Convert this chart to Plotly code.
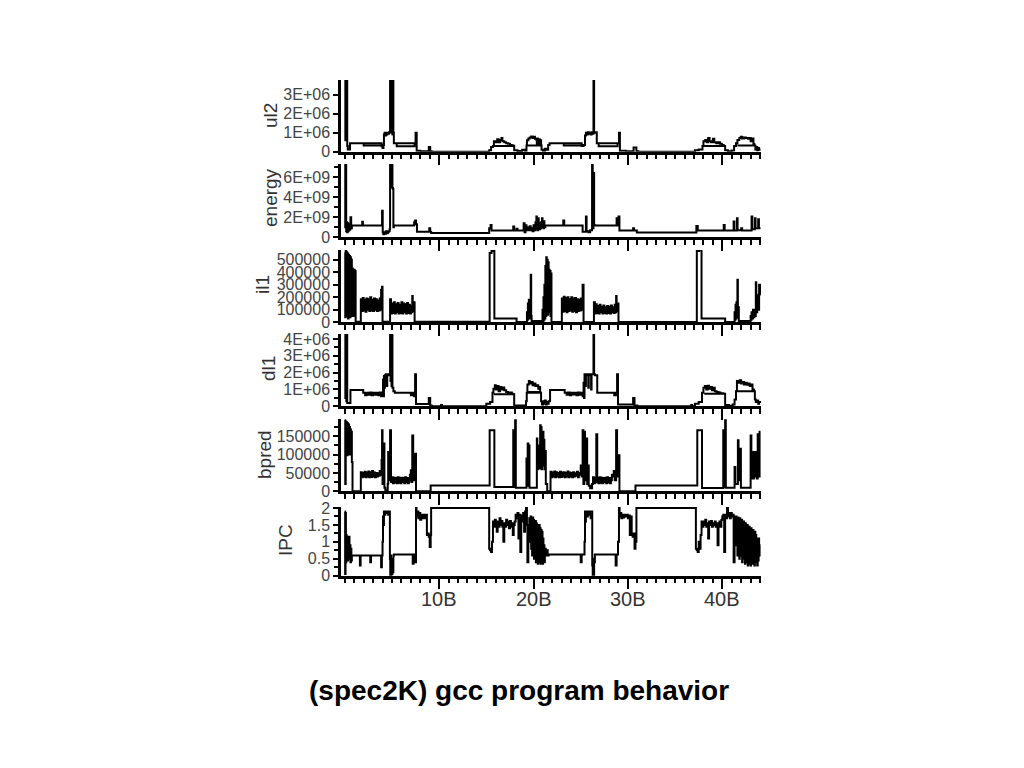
import plotly.graph_objects as go

# ---------------- data (x in billions of instructions) ----------------
# ul2 (millions)
UL2 = [(0.0,4.2),(0.06,0.6),(0.1,4.2),(0.16,1.0),(0.2,4.2),(0.26,0.3),(0.32,0.12),
       (0.55,0.45),(3.9,0.32),(2.0,0.45),(3.9,0.28),(4.0,0.2),(4.1,0.35),(4.15,0.9),(4.22,1.0),
       (4.3,0.85),(4.36,1.0),(4.45,0.9),(4.52,1.0),(4.6,0.95),(4.7,1.02),
       (4.8,4.2),(4.85,3.0),(4.9,4.2),(4.95,1.0),(5.0,4.2),(5.05,0.9),(5.1,4.2),(5.15,1.0),
       (5.2,0.45),(7.4,0.28),(5.5,0.45),(7.5,1.0),(7.62,0.05),(8.0,0.02),(8.9,0.25),(9.05,0.02),
       (9.2,0.0),(15.3,0.08),(15.5,0.25),(15.7,0.3),
       (15.8,0.55),(16.0,0.5),(16.15,0.65),(16.3,0.5),(16.45,0.62),(16.6,0.72),(16.7,0.55),
       (16.9,0.5),(17.1,0.45),(17.3,0.42),(17.5,0.35),(17.7,0.32),(17.9,0.3),(15.8,0.3),
       (17.95,0.08),(18.3,0.04),(18.8,0.1),(19.1,0.05),(19.25,0.33),
       (19.3,0.6),(19.45,0.7),(19.6,0.75),(19.75,0.8),(19.9,0.72),(20.0,0.78),(20.15,0.68),
       (20.3,0.62),(20.35,0.4),(20.4,0.7),(20.45,0.4),(20.5,0.55),(20.55,0.35),(20.6,0.65),
       (20.65,0.4),(20.7,0.6),(20.8,0.33),(19.35,0.33),
       (20.85,0.1),(21.0,0.05),(21.2,0.15),(21.4,0.1),(21.55,0.35),
       (21.7,0.45),(25.1,0.33),(23.2,0.45),(25.1,0.3),(25.3,0.35),(25.45,0.85),(25.55,1.0),
       (25.65,0.9),(25.75,1.02),(25.85,0.95),(25.95,1.0),(26.05,0.9),(26.15,1.02),(26.25,0.95),
       (26.35,4.2),(26.42,1.0),(26.5,1.02),
       (26.7,0.45),(28.9,0.28),(26.9,0.45),(29.05,1.0),(29.15,0.05),(29.8,0.02),(30.6,0.22),
       (30.9,0.02),(31.1,0.0),(37.1,0.08),(37.5,0.12),(37.9,0.3),
       (38.0,0.55),(38.2,0.62),(38.35,0.5),(38.5,0.72),(38.65,0.55),(38.8,0.5),(39.0,0.68),
       (39.15,0.5),(39.35,0.45),(39.55,0.5),(39.75,0.42),(39.95,0.35),(40.15,0.3),(38.0,0.3),
       (40.3,0.08),(40.6,0.03),(41.0,0.06),(41.25,0.3),(41.45,0.45),
       (41.6,0.62),(41.8,0.72),(41.95,0.78),(42.1,0.7),(42.3,0.75),(42.5,0.72),(42.7,0.68),
       (42.85,0.72),(43.0,0.55),(43.15,0.7),(43.3,0.4),(43.4,0.33),(41.6,0.33),
       (43.5,0.12),(43.6,0.25),(43.7,0.08),(43.8,0.2),(43.9,0.1),(44.05,0.1)]

# energy (units of 1E+09)
ENERGY = [(0.0,7.6),(0.05,1.0),(0.1,7.6),(0.15,0.6),(0.2,1.5),(0.25,0.5),(0.3,1.4),(0.35,0.6),
          (0.4,1.3),(0.45,0.7),(0.5,1.2),(0.55,0.8),(0.6,2.0),(0.68,0.9),(0.75,1.17),
          (1.85,1.55),(1.92,1.17),(3.95,2.65),(4.02,0.5),(4.08,0.3),(4.15,0.5),(4.25,0.35),
          (4.35,0.6),(4.45,0.4),(4.55,0.5),(4.65,0.6),(4.75,0.8),
          (4.8,7.6),(4.85,5.0),(4.9,7.6),(4.95,6.8),(5.0,7.6),(5.05,4.9),(5.1,4.8),(5.15,1.0),
          (5.2,1.17),(7.35,1.5),(7.45,1.67),(7.55,1.3),(7.65,0.55),(8.95,0.9),(9.05,0.55),
          (9.15,0.42),(15.3,0.9),(15.45,1.23),(15.55,0.67),(17.85,1.07),(17.95,0.67),
          (18.2,0.85),(18.3,0.67),(18.95,1.4),(19.05,0.5),(19.15,1.2),(19.25,0.7),(19.4,1.0),
          (19.5,0.7),(19.6,1.1),(19.7,0.7),(19.8,0.9),(19.9,0.6),(20.0,1.2),(20.1,0.7),
          (20.2,1.5),(20.25,0.8),(20.3,2.07),(20.35,0.9),(20.4,1.6),(20.45,0.7),(20.5,1.9),
          (20.55,1.0),(20.6,1.4),(20.65,0.8),(20.7,1.2),(20.75,0.9),(20.8,1.5),(20.85,1.0),
          (20.9,1.9),(20.95,1.1),(21.0,1.3),(21.05,0.9),(21.1,1.6),(21.15,1.0),
          (21.25,1.17),(23.15,1.67),(23.25,1.17),(25.2,0.55),(25.55,2.07),(25.62,0.6),
          (25.8,0.5),(26.0,0.7),(26.2,7.6),(26.27,0.9),(26.35,6.4),(26.42,1.2),(26.55,1.17),
          (28.8,1.9),(28.9,1.17),(29.0,2.07),(29.1,0.67),(30.55,0.9),(30.65,0.67),
          (30.95,0.47),(37.25,1.13),(37.4,0.67),(40.15,1.23),(40.25,0.67),(41.2,1.57),
          (41.28,0.67),(41.55,1.9),(41.62,0.7),(42.0,0.9),(42.1,0.67),(43.1,2.07),
          (43.18,0.8),(43.45,1.9),(43.52,0.9),(43.8,1.8),(43.88,0.9),(44.05,0.9)]

# il1 (units of 100000)
IL1 = [(0.0,5.6),(0.05,0.4),(0.1,5.7),(0.15,0.5),(0.2,5.6),(0.25,0.8),(0.3,5.5),(0.35,0.3),
       (0.4,5.4),(0.45,0.6),(0.5,5.3),(0.55,0.4),(0.6,5.2),(0.65,0.5),(0.7,5.0),(0.75,0.6),
       (0.8,4.3),(0.85,0.5),(0.9,4.2),(0.95,0.7),(1.0,4.2),(1.05,0.5),(1.1,4.1),(1.15,0.05),
       (1.7,1.85),(1.8,0.9),(1.9,1.95),(2.0,0.95),(2.1,1.8),(2.2,0.85),(2.3,1.9),(2.4,1.0),
       (2.5,1.85),(2.6,0.9),(2.7,2.0),(2.8,0.95),(2.9,1.8),(3.0,0.9),(3.1,1.9),(3.2,1.0),
       (3.3,1.85),(3.4,0.9),(3.5,1.75),(3.6,0.95),(3.7,1.9),(3.8,1.0),(3.85,2.6),(3.9,1.1),
       (3.95,2.85),(4.0,0.05),
       (4.8,1.85),(4.9,0.7),(5.0,1.5),(5.1,0.75),(5.2,1.6),(5.3,0.7),(5.4,1.45),(5.5,0.8),
       (5.6,1.55),(5.7,0.7),(5.8,1.4),(5.9,0.75),(6.0,1.6),(6.1,0.7),(6.2,1.5),(6.3,0.8),
       (6.4,1.45),(6.5,0.7),(6.6,1.55),(6.7,0.75),(6.8,1.4),(6.9,0.7),(7.0,1.3),(7.1,0.8),
       (7.15,2.1),(7.2,0.9),(7.3,1.6),(7.4,0.05),
       (15.35,5.55),(15.55,5.7),(15.85,0.3),(18.2,0.02),(19.3,0.8),(19.35,0.2),(19.4,1.5),
       (19.45,0.3),(19.5,1.8),(19.55,0.4),(19.6,1.7),(19.65,0.3),(19.7,3.8),(19.75,0.5),
       (19.8,0.1),(20.95,1.0),(21.0,0.1),(21.05,2.0),(21.1,0.2),(21.15,3.0),(21.2,0.3),
       (21.25,4.5),(21.3,0.5),(21.35,5.2),(21.4,0.8),(21.45,5.0),(21.5,0.6),(21.55,4.8),
       (21.6,1.0),(21.65,4.2),(21.7,0.8),(21.75,4.1),(21.8,0.5),(21.85,3.9),(21.9,0.02),
       (23.0,1.9),(23.1,0.85),(23.2,2.05),(23.3,0.9),(23.4,1.95),(23.5,0.8),(23.6,2.0),
       (23.7,0.9),(23.8,1.85),(23.9,0.95),(24.0,2.0),(24.1,0.85),(24.2,1.9),(24.3,0.9),
       (24.4,1.95),(24.5,0.8),(24.6,1.85),(24.7,0.9),(24.8,1.8),(24.9,0.95),(25.0,1.9),
       (25.1,1.0),(25.2,3.0),(25.3,0.02),
       (26.4,1.6),(26.5,0.7),(26.6,1.45),(26.7,0.75),(26.8,1.3),(26.9,0.7),(27.0,1.4),
       (27.1,0.8),(27.2,1.25),(27.3,0.7),(27.4,1.35),(27.5,0.75),(27.6,1.2),(27.7,0.7),
       (27.8,1.3),(27.9,0.75),(28.0,1.25),(28.1,0.7),(28.2,1.35),(28.3,0.8),(28.4,1.2),
       (28.5,0.75),(28.6,1.4),(28.7,0.8),(28.75,2.1),(28.8,0.9),(28.9,1.5),(29.0,0.02),
       (37.3,5.7),(37.55,5.8),(37.8,0.3),(40.3,0.02),(41.3,0.8),(41.35,0.2),(41.4,1.4),
       (41.45,0.3),(41.5,1.6),(41.55,0.4),(41.6,3.4),(41.65,0.5),(41.7,1.2),(41.75,0.1),
       (43.0,0.5),(43.05,0.2),(43.1,0.8),(43.15,0.3),(43.25,1.0),(43.3,0.4),(43.4,1.0),
       (43.45,0.5),(43.55,3.2),(43.6,0.8),(43.7,2.2),(43.8,1.0),(43.9,3.0),(44.0,2.2),
       (44.05,2.2)]

# dl1 (millions)
DL1 = [(0.0,4.5),(0.06,0.5),(0.1,4.5),(0.16,0.3),(0.2,4.5),(0.26,0.2),(0.32,0.2),(0.6,0.97),
       (1.95,0.8),(2.15,0.65),(2.3,0.8),(2.5,0.68),(2.65,0.82),(2.85,0.65),(3.0,0.8),
       (3.2,0.68),(3.35,0.8),(3.55,0.65),(3.7,0.82),(3.85,0.6),
       (3.95,0.75),(4.05,1.6),(4.1,0.6),(4.15,1.8),(4.2,1.1),(4.25,1.85),(4.35,1.9),
       (4.45,1.2),(4.5,1.9),(4.6,1.85),(4.7,1.9),(4.8,4.5),(4.85,1.5),(4.9,4.5),(4.95,1.2),
       (5.0,4.5),(5.05,1.1),(5.15,0.9),(5.3,0.8),(7.0,0.65),(7.2,0.8),(7.35,0.6),(7.45,1.9),
       (7.55,0.14),(8.9,0.5),(9.05,0.05),(9.2,0.0),(10.2,0.08),(10.3,0.0),(15.0,0.15),
       (15.4,0.25),(15.65,0.8),
       (15.75,1.05),(15.9,1.25),(16.0,1.0),(16.15,1.2),(16.3,0.9),(16.45,1.15),(16.6,1.0),
       (16.75,1.12),(16.9,0.95),(17.1,0.85),(17.3,0.8),(17.5,0.82),(17.7,0.75),(17.85,0.72),
       (15.8,0.72),(17.95,0.05),(19.2,0.3),(19.28,0.8),
       (19.35,1.3),(19.5,1.5),(19.6,1.35),(19.75,1.45),(19.9,1.25),(20.05,1.35),(20.2,1.2),
       (20.35,1.25),(20.5,1.05),(20.6,1.15),(20.7,0.85),(19.35,0.8),
       (20.8,0.3),(20.9,0.1),(21.0,0.3),(21.1,0.15),(21.2,0.35),(21.3,0.1),(21.4,0.25),
       (21.5,0.15),(21.6,0.3),(21.75,0.97),
       (23.3,0.8),(23.5,0.68),(23.65,0.82),(23.85,0.65),(24.0,0.8),(24.2,0.7),(24.35,0.8),
       (24.55,0.65),(24.7,0.82),(24.9,0.68),(25.05,0.8),(25.2,0.6),
       (25.3,1.4),(25.35,0.5),(25.4,1.9),(25.5,1.2),(25.55,1.85),(25.7,1.9),(25.8,1.1),
       (25.85,1.9),(26.0,1.85),(26.1,1.0),(26.15,1.9),(26.35,4.5),(26.42,1.9),(26.5,1.85),
       (26.75,0.8),(28.55,0.65),(28.75,0.8),(28.85,1.9),(28.95,0.1),(30.55,0.5),(30.7,0.05),
       (31.0,0.0),(36.7,0.08),(36.8,0.0),(37.1,0.15),(37.5,0.25),(37.85,0.8),
       (38.0,1.1),(38.15,1.2),(38.3,1.0),(38.45,1.22),(38.6,1.05),(38.75,1.15),(38.9,0.95),
       (39.05,1.1),(39.2,0.9),(39.4,0.85),(39.6,0.82),(39.8,0.78),(40.1,0.75),(38.1,0.75),
       (40.3,0.08),(40.7,0.04),(41.1,0.1),(41.3,0.4),(41.45,0.9),
       (41.55,1.5),(41.7,1.4),(41.85,1.55),(42.0,1.35),(42.15,1.45),(42.3,1.3),(42.45,1.4),
       (42.6,1.28),(42.75,1.35),(42.9,1.2),(43.05,1.3),(43.2,1.0),(43.35,0.9),(41.6,0.9),
       (43.45,0.4),(43.55,0.25),(43.7,0.35),(43.8,0.15),(43.9,0.25),(44.05,0.2)]

# bpred (thousands)
BPRED = [(0.0,195),(0.05,20),(0.1,190),(0.15,100),(0.2,188),(0.25,98),(0.3,185),(0.35,105),
         (0.4,182),(0.45,100),(0.5,175),(0.55,110),(0.6,168),(0.65,100),(0.7,162),(0.75,80),
         (0.82,0),
         (1.7,52),(1.8,38),(1.9,50),(2.0,40),(2.1,53),(2.2,38),(2.3,51),(2.4,40),(2.5,54),
         (2.6,38),(2.7,52),(2.8,39),(2.9,55),(3.0,40),(3.1,51),(3.2,38),(3.3,50),(3.4,40),
         (3.5,49),(3.6,42),(3.7,55),(3.8,45),(3.9,85),
         (3.95,166),(4.0,20),(4.05,125),(4.1,30),(4.15,130),(4.2,10),(4.3,2),(4.55,20),
         (4.6,107),(4.7,30),(4.8,166),(4.9,25),
         (5.0,38),(5.1,22),(5.2,37),(5.3,24),(5.4,36),(5.5,22),(5.6,38),(5.7,23),(5.8,37),
         (5.9,22),(6.0,36),(6.1,25),(6.2,37),(6.3,22),(6.4,38),(6.5,24),(6.6,36),(6.7,22),
         (6.8,30),(6.9,45),(7.0,57),(7.05,25),(7.15,152),(7.25,60),(7.35,30),(7.45,102),
         (7.55,0),(9.1,16),(15.35,166),(15.85,12),(17.85,166),(17.92,12),(18.05,196),
         (18.12,10),(19.25,89),(19.3,15),(19.38,130),(19.45,20),(19.5,125),(19.57,10),
         (20.35,144),(20.4,60),(20.45,125),(20.5,70),(20.55,100),(20.6,62),(20.7,180),
         (20.75,65),(20.8,175),(20.85,60),(20.9,150),(20.95,80),(21.0,162),(21.05,70),
         (21.1,140),(21.15,60),(21.2,110),(21.3,20),(21.45,0),
         (21.8,53),(21.9,38),(22.0,51),(22.1,40),(22.2,54),(22.3,38),(22.4,52),(22.5,40),
         (22.6,50),(22.7,38),(22.8,53),(22.9,39),(23.0,51),(23.1,40),(23.2,52),(23.3,38),
         (23.4,50),(23.5,40),(23.6,54),(23.7,38),(23.8,51),(23.9,40),(24.0,50),(24.1,38),
         (24.2,52),(24.3,40),(24.4,49),(24.5,42),(24.6,53),(24.7,38),(24.8,50),(24.9,45),
         (25.0,70),(25.1,40),
         (25.2,166),(25.28,20),(25.38,162),(25.45,30),(25.6,144),(25.68,20),(25.75,70),
         (25.85,15),(26.0,8),(26.2,20),
         (26.3,38),(26.4,22),(26.5,37),(26.6,25),(26.65,155),(26.75,24),(26.8,36),(26.9,22),
         (27.0,38),(27.1,23),(27.2,37),(27.3,22),(27.4,36),(27.5,25),(27.6,37),(27.7,22),
         (27.8,38),(27.9,24),(28.0,36),(28.1,22),(28.2,30),(28.3,45),(28.4,40),(28.5,55),
         (28.6,30),(28.75,166),(28.85,40),(29.0,98),(29.1,0),
         (30.8,16),(37.35,166),(37.85,9),(40.1,166),(40.18,12),(40.3,196),(40.37,10),
         (41.3,66),(41.38,20),(41.65,139),(41.72,30),(41.9,116),(41.97,10),
         (43.0,152),(43.08,35),(43.15,107),(43.25,35),(43.35,107),(43.45,40),(43.55,107),
         (43.65,35),(43.75,155),(43.85,40),(43.95,162),(44.05,162)]

# IPC
IPC = [(0.0,1.9),(0.04,0.05),(0.08,1.85),(0.12,0.4),(0.16,1.2),(0.2,0.5),(0.25,1.15),
       (0.3,0.45),(0.35,1.1),(0.4,0.6),(0.45,1.15),(0.5,0.5),(0.55,0.9),(0.6,0.4),(0.65,0.8),
       (0.7,0.45),(0.75,0.6),(1.6,0.3),(1.68,0.6),(2.7,0.4),(2.78,0.6),(3.85,0.25),(3.93,0.6),
       (4.0,1.0),(4.05,1.75),(4.1,1.5),(4.15,1.9),(4.25,1.8),(4.3,1.9),(4.4,1.85),(4.5,1.9),
       (4.6,1.8),(4.7,1.9),(4.78,0.5),(4.82,0.0),(4.86,0.6),(4.9,0.0),(4.95,0.5),(5.0,0.05),
       (5.05,0.4),(5.1,0.1),(5.15,0.6),(5.2,0.63),(7.2,0.35),(7.3,0.63),(7.45,0.4),
       (7.55,2.0),(7.6,1.75),(7.7,1.9),(7.8,1.7),(7.9,1.85),(8.0,1.65),(8.1,1.8),(8.2,1.7),
       (8.3,1.8),(8.4,1.75),(8.5,1.7),(8.6,1.8),(8.7,1.2),(8.8,1.25),(8.9,1.15),(9.0,0.85),
       (9.1,1.2),(9.15,2.0),
       (15.3,0.8),(15.4,0.75),(15.5,0.7),(15.6,1.0),(15.7,1.6),
       (15.8,1.45),(15.9,1.65),(16.0,1.5),(16.1,1.3),(16.2,1.6),(16.3,1.45),(16.4,1.7),
       (16.5,1.5),(16.6,1.62),(16.7,1.45),(16.8,1.0),(16.9,1.55),(17.0,1.45),(17.1,1.65),
       (17.2,1.5),(17.3,1.6),(17.4,1.4),(17.5,1.62),(17.6,1.45),(17.7,1.55),(17.8,1.2),
       (17.9,1.5),(18.0,1.6),
       (18.1,1.8),(18.2,1.7),(18.3,1.85),(18.4,1.1),(18.5,1.8),(18.6,0.7),(18.7,1.78),
       (18.8,1.6),(18.9,1.85),(19.0,1.3),(19.1,1.9),(19.2,2.0),(19.3,1.5),(19.35,0.4),
       (19.45,1.0),(19.55,1.7),
       (19.7,1.75),(19.75,0.8),(19.8,1.7),(19.85,0.6),(19.9,1.72),(19.95,0.9),(20.0,1.65),
       (20.05,0.5),(20.1,1.6),(20.15,0.7),(20.2,1.62),(20.25,0.4),(20.3,1.55),(20.35,0.6),
       (20.4,1.5),(20.45,0.35),(20.5,1.45),(20.55,0.5),(20.6,1.5),(20.65,0.4),(20.7,1.4),
       (20.75,0.35),(20.8,1.35),(20.85,0.45),(20.9,1.3),(20.95,0.35),(21.0,1.1),(21.05,0.5),
       (21.1,0.9),(21.15,0.4),(21.2,0.8),(21.3,0.6),(21.4,0.75),(21.5,0.6),
       (21.6,0.63),(25.0,0.4),(25.1,0.63),(25.4,1.0),(25.45,1.9),(25.5,1.6),(25.55,1.9),
       (25.65,1.75),(25.75,1.9),(25.85,1.8),(25.95,1.9),(26.05,1.7),(26.15,1.9),(26.22,0.3),
       (26.27,0.0),(26.32,0.5),(26.37,0.0),(26.42,0.4),(26.5,0.63),(28.7,0.3),(28.8,0.63),
       (28.95,1.0),(29.05,2.0),(29.12,1.75),(29.2,1.85),(29.3,1.7),(29.4,1.8),(29.5,1.72),
       (29.6,1.8),(29.7,1.75),(29.8,1.75),(29.9,1.8),(30.0,1.7),(30.1,1.78),(30.2,1.2),
       (30.3,1.75),(30.4,1.2),(30.5,1.15),(30.6,1.25),(30.7,0.8),(30.8,1.0),(30.9,2.0),
       (37.2,0.8),(37.3,0.75),(37.4,0.7),(37.5,1.0),(37.6,0.8),(37.7,1.2),(37.8,1.6),
       (37.9,1.45),(38.0,1.6),(38.1,1.5),(38.2,1.65),(38.3,1.45),(38.4,1.55),(38.5,1.1),
       (38.6,1.6),(38.7,1.5),(38.8,1.62),(38.9,1.45),(39.0,1.55),(39.1,1.5),(39.2,1.6),
       (39.3,1.45),(39.4,1.55),(39.5,0.9),(39.6,1.5),(39.7,1.6),(39.8,1.45),(39.9,1.65),
       (40.0,1.75),(40.1,1.8),(40.2,0.7),(40.3,1.8),(40.4,1.7),(40.5,2.0),(40.6,1.75),
       (40.7,1.85),(40.8,1.7),(40.9,1.85),(41.0,1.75),(41.1,1.8),(41.2,0.4),(41.3,1.0),
       (41.4,1.75),(41.5,0.9),(41.55,1.7),(41.6,0.6),(41.65,1.72),(41.7,0.8),(41.75,1.65),
       (41.8,0.5),(41.85,1.7),(41.9,0.9),(41.95,1.6),(42.0,0.6),(42.05,1.65),(42.1,0.4),
       (42.15,1.55),(42.2,0.7),(42.25,1.6),(42.3,0.5),(42.35,1.5),(42.4,0.35),(42.45,1.55),
       (42.5,0.6),(42.55,1.45),(42.6,0.4),(42.65,1.5),(42.7,0.3),(42.75,1.4),(42.8,0.5),
       (42.85,1.45),(42.9,0.35),(42.95,1.35),(43.0,0.3),(43.05,1.4),(43.1,0.5),(43.15,1.3),
       (43.2,0.35),(43.25,1.35),(43.3,0.6),(43.35,1.25),(43.4,0.3),(43.45,1.3),(43.5,0.5),
       (43.55,1.2),(43.6,0.4),(43.65,1.1),(43.7,0.3),(43.75,1.0),(43.8,0.45),(43.85,1.1),
       (43.9,0.6),(43.95,0.9),(44.05,0.9)]

PANEL_NAMES = ["ul2", "energy", "il1", "dl1", "bpred", "IPC"]
PANEL_SCALE = [1e6, 1e9, 1e5, 1e6, 1e3, 1.0]
Y_TOPS = [3.77e6, 7.3e9, 5.78e5, 4.3e6, 1.96e5, 2.03]
Y_TICKVALS = [[0, 1e6, 2e6, 3e6],
              [0, 2e9, 4e9, 6e9],
              [0, 1e5, 2e5, 3e5, 4e5, 5e5],
              [0, 1e6, 2e6, 3e6, 4e6],
              [0, 50000, 100000, 150000],
              [0, 0.5, 1, 1.5, 2]]
Y_TICKTEXT = [["0", "1E+06", "2E+06", "3E+06"],
              ["0", "2E+09", "4E+09", "6E+09"],
              ["0", "100000", "200000", "300000", "400000", "500000"],
              ["0", "1E+06", "2E+06", "3E+06", "4E+06"],
              ["0", "50000", "100000", "150000"],
              ["0", "0.5", "1", "1.5", "2"]]
Y_MINOR = [None, 1e9, None, 5e5, 25000, 0.25]
X_TICKVALS = [10, 20, 30, 40]
X_TICKTEXT = ["10B", "20B", "30B", "40B"]
TITLE = "(spec2K) gcc program behavior"

# ---------------- layout geometry (pixels in a 1024x768 page) ----------------
W, H = 1024, 768
OFF = 8  # the page body adds an 8px margin around the figure
def fx(px):
    return (px - OFF) / W
def fy(py):
    return 1 - (py - OFF) / H

XDOM = [fx(341), fx(761)]
XRANGE = [-0.4, 44.1]
ZERO_PX = [151.7, 237.3, 322.3, 406.3, 491.3, 575.7]
TOP_PX = [80, 164, 250, 334, 419.3, 507]
TITLE_X_PX = [270, 270, 263, 269, 264, 285]
TITLE_Y_PX = [116, 198, 285, 369, 455, 540]
XLABEL_Y_PX = 599
CAPTION_PX = (519, 690)

FONT = "Liberation Sans, Arial, sans-serif"
series = [UL2, ENERGY, IL1, DL1, BPRED, IPC]

fig = go.Figure()
layout = dict(width=W, height=H, margin=dict(l=0, r=0, t=0, b=0, autoexpand=False),
              paper_bgcolor="white", plot_bgcolor="white", showlegend=False,
              font=dict(family=FONT))
annotations = []
n_pan = len(series)
for i, pts in enumerate(series):
    n = i + 1
    sfx = "" if n == 1 else str(n)
    xs = [p[0] for p in pts]
    ys = [p[1] * PANEL_SCALE[i] for p in pts]
    fig.add_trace(go.Scatter(x=xs, y=ys, mode="lines",
                             line=dict(color="black", width=2.0, shape="hv"),
                             xaxis="x" + sfx, yaxis="y" + sfx, hoverinfo="skip"))
    layout["xaxis" + sfx] = dict(
        domain=XDOM, range=XRANGE, anchor="y" + sfx, automargin=False,
        showline=True, linecolor="black", linewidth=2.5,
        showgrid=False, zeroline=False,
        ticks="outside", ticklen=11, tickwidth=2, tickcolor="black",
        tickmode="array", tickvals=X_TICKVALS, ticktext=X_TICKTEXT,
        showticklabels=False,
        minor=dict(tickmode="linear", tick0=0, dtick=1, ticks="outside",
                   ticklen=5, tickwidth=2, tickcolor="black", showgrid=False))
    ydom = [fy(ZERO_PX[i]), fy(TOP_PX[i])]
    yax = dict(
        domain=ydom, range=[0, Y_TOPS[i]], anchor="x" + sfx, automargin=False,
        showline=True, linecolor="black", linewidth=2.5,
        showgrid=False, zeroline=False,
        ticks="outside", ticklen=5, tickwidth=2, tickcolor="black",
        tickmode="array", tickvals=Y_TICKVALS[i], ticktext=Y_TICKTEXT[i],
        tickfont=dict(size=16, color="#444444", family=FONT))
    if Y_MINOR[i] is not None:
        yax["minor"] = dict(tickmode="linear", tick0=0, dtick=Y_MINOR[i],
                            ticks="outside", ticklen=4, tickwidth=2,
                            tickcolor="black", showgrid=False)
    layout["yaxis" + sfx] = yax
    annotations.append(dict(text=PANEL_NAMES[i], xref="paper", yref="paper",
                            x=fx(TITLE_X_PX[i]), y=fy(TITLE_Y_PX[i]),
                            xanchor="center", yanchor="middle", textangle=-90,
                            showarrow=False,
                            font=dict(size=19, color="#333333", family=FONT)))

# x tick labels of the bottom panel (placed on its data scale)
last_x = "x" + str(n_pan)
for v, t in zip(X_TICKVALS, X_TICKTEXT):
    annotations.append(dict(text=t, xref=last_x, yref="paper", x=v, y=fy(XLABEL_Y_PX),
                            xanchor="center", yanchor="middle", showarrow=False,
                            font=dict(size=20, color="#333333", family=FONT)))

annotations.append(dict(text="<b>" + TITLE + "</b>", xref="paper", yref="paper",
                        x=fx(CAPTION_PX[0]), y=fy(CAPTION_PX[1]),
                        xanchor="center", yanchor="middle",
                        showarrow=False, font=dict(size=28, color="black", family=FONT)))
layout["annotations"] = annotations
fig.update_layout(**layout)
fig.write_html("out.html")
